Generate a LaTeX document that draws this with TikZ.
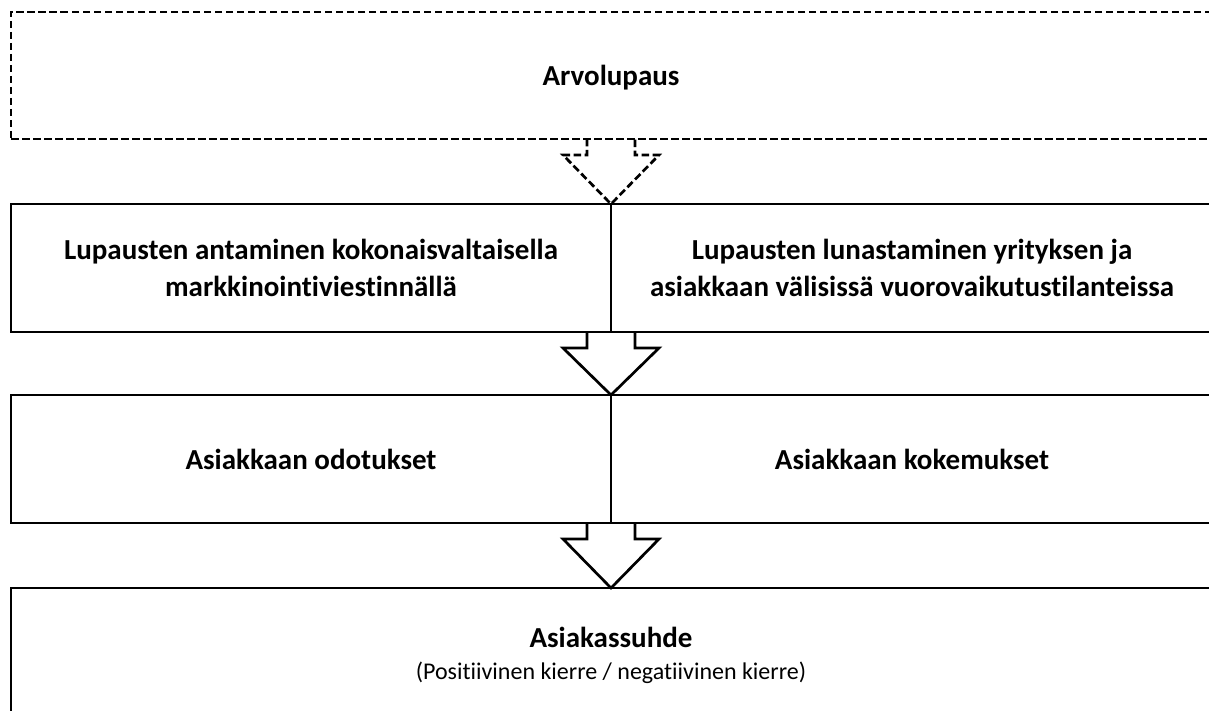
\documentclass[tikz,border=0pt]{standalone}
\usepackage{fontspec}
\setmainfont[Ligatures=NoCommon]{Carlito}
\usetikzlibrary{calc}

% Block arrow pointing from the bottom of one box down to a tip point
\newcommand\flowarrow[3][]{%
  \coordinate (fa-s) at (#3 |- #2.south);
  \coordinate (fa-h) at ([yshift=-16pt]fa-s);
  \draw[arrowline,#1] ([xshift=-24pt]fa-s) -- ([xshift=-24pt]fa-h)
    -- ([xshift=-48pt]fa-h) -- (#3) -- ([xshift=48pt]fa-h)
    -- ([xshift=24pt]fa-h) -- ([xshift=24pt]fa-s);}

\begin{document}
\begin{tikzpicture}[x=1pt,y=-1pt,
  box/.style={draw, line width=2.7pt, inner sep=0pt, outer sep=0pt,
    minimum height=128pt, anchor=north west, align=center,
    font=\bfseries\fontsize{29}{37}\selectfont},
  dashedbox/.style={box, dash pattern=on 7.5pt off 3.5pt},
  arrowline/.style={line width=2.7pt, miter limit=10},
  dashedarrow/.style={dash pattern=on 7.5pt off 3.5pt},
  title/.style={anchor=base, inner sep=0pt, font=\bfseries\fontsize{29}{37}\selectfont},
  subtitle/.style={anchor=base, inner sep=0pt, font=\fontsize{24}{30}\selectfont}]
\useasboundingbox (0,0) rectangle (1209,711);
\clip (0,0) rectangle (1209,711);

% Value proposition
\node[dashedbox, minimum width=1230pt, minimum height=127pt] (arvo) at (11,12) {};
\node[title] (arvoT) at (611,86) {Arvolupaus};

% Making and keeping promises
\node[box, minimum width=600pt] (antaa) at (11,204)
  {Lupausten antaminen kokonaisvaltaisella\\markkinointiviestinnällä};
\node[box, minimum width=630pt] (lunastaa) at (antaa.north east) {};
\node[align=center, font=\bfseries\fontsize{29}{37}\selectfont] (lunastaaT) at (912,268)
  {Lupausten lunastaminen yrityksen ja\\asiakkaan välisissä vuorovaikutustilanteissa};

% Expectations and experiences
\node[box, minimum width=600pt] (odotus) at (11,395) {Asiakkaan odotukset};
\node[box, minimum width=630pt] (kokemus) at (odotus.north east) {};
\node[font=\bfseries\fontsize{29}{37}\selectfont] (kokemusT) at (912,459.5) {Asiakkaan kokemukset};

% Customer relationship
\node[box, minimum width=1230pt, minimum height=160pt] (suhde) at (11,588) {};
\node[title] (suhdeT) at (611,647) {Asiakassuhde};
\node[subtitle] (suhdeS) at (611,679) {(Positiivinen kierre / negatiivinen kierre)};

% Arrows between the levels
\coordinate (tip1) at (antaa.north east);
\coordinate (tip2) at (odotus.north east);
\coordinate (tip3) at (antaa.north east |- suhde.north);
\flowarrow[dashedarrow]{arvo}{tip1}
\flowarrow{antaa}{tip2}
\flowarrow{odotus}{tip3}
\end{tikzpicture}
\end{document}
